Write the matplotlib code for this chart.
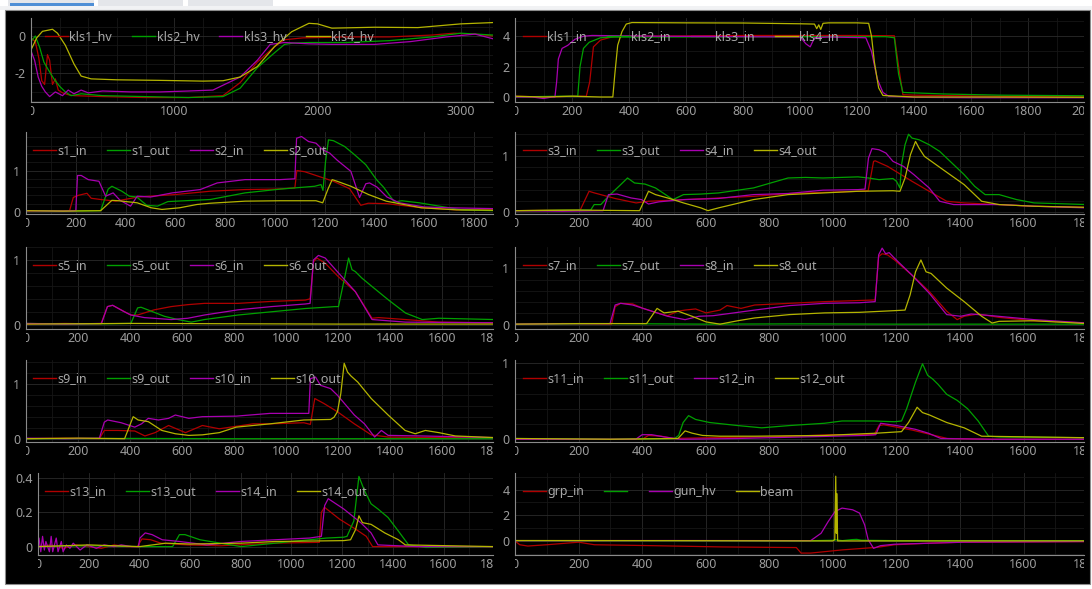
import matplotlib
matplotlib.use('Agg')
import matplotlib.pyplot as plt
from matplotlib.lines import Line2D
from matplotlib.patches import Rectangle
from matplotlib.transforms import Bbox, TransformedBbox, blended_transform_factory, offset_copy
from matplotlib.ticker import FixedLocator, MultipleLocator

plt.rcParams['font.family'] = ['Noto Sans', 'DejaVu Sans']

# klystron HV (long window)
kls1_hv = [(0, -0.1), (30, -0.3), (55, -1.2), (75, -2.4), (95, -2.6), (115, -1.0), (130, -1.3), (150, -2.6),
           (170, -2.3), (190, -2.9), (220, -3.05), (260, -3.15), (300, -3.2), (500, -3.25), (800, -3.3),
           (1100, -3.3), (1340, -3.2), (1460, -2.5), (1580, -1.4), (1700, -0.57), (1770, -0.2), (1900, -0.1),
           (2200, -0.05), (2500, -0.05), (2800, 0.05), (2950, 0.15), (3100, 0.1), (3225, 0.0)]
kls2_hv = [(0, -0.3), (30, 0.0), (60, -0.6), (90, -1.4), (120, -1.8), (160, -2.3), (200, -2.7), (240, -3.0),
           (280, -3.2), (350, -3.1), (500, -3.2), (800, -3.25), (1100, -3.3), (1340, -3.25), (1460, -2.8),
           (1580, -1.7), (1700, -0.9), (1770, -0.45), (1830, -0.38), (1940, -0.35), (2200, -0.35),
           (2500, -0.25), (2800, -0.05), (3000, 0.15), (3225, 0.05)]
kls3_hv = [(0, -0.8), (25, -1.3), (50, -2.2), (75, -2.7), (100, -3.0), (130, -3.25), (170, -3.0), (220, -3.2),
           (260, -2.9), (300, -3.1), (350, -2.9), (400, -3.05), (500, -2.95), (700, -3.0), (900, -3.0),
           (1100, -2.95), (1270, -2.9), (1460, -2.2), (1580, -1.3), (1670, -0.45), (1770, -0.35), (1940, -0.42),
           (2100, -0.45), (2400, -0.45), (2650, -0.3), (2900, -0.05), (3100, 0.1), (3225, -0.15)]
kls4_hv = [(0, -0.75), (40, -0.1), (80, 0.25), (150, 0.36), (185, 0.15), (240, -0.5), (300, -1.5), (350, -2.15),
           (420, -2.3), (600, -2.35), (900, -2.38), (1200, -2.42), (1340, -2.4), (1460, -2.2), (1580, -1.64),
           (1700, -0.57), (1820, 0.23), (1940, 0.68), (2000, 0.65), (2100, 0.42), (2400, 0.47), (2700, 0.45),
           (3000, 0.65), (3225, 0.72)]

# klystron drive
kls1_in = [(0, 0.05), (100, 0.0), (200, 0.05), (250, 0.05), (262, 1.0), (275, 3.3), (300, 3.75), (340, 3.95),
           (400, 4.0), (600, 4.02), (800, 4.05), (1000, 4.05), (1200, 4.05), (1330, 4.03), (1345, 2.0),
           (1360, 0.15), (1400, 0.12), (1600, 0.07), (1800, 0.02), (2000, 0.0)]
kls2_in = [(0, 0.0), (150, 0.05), (220, 0.05), (228, 2.0), (240, 3.2), (260, 3.6), (300, 3.9), (350, 3.95),
           (600, 3.95), (1000, 3.97), (1300, 3.97), (1330, 3.9), (1345, 1.5), (1360, 0.3), (1500, 0.2),
           (1700, 0.12), (2000, 0.08)]
kls3_in = [(0, 0.0), (60, 0.0), (100, -0.1), (130, 0.0), (140, 0.0), (146, 1.0), (152, 2.5), (165, 3.2),
           (185, 3.4), (210, 3.8), (240, 4.0), (270, 4.05), (500, 4.0), (800, 3.97), (1000, 3.95), (1020, 3.5),
           (1035, 3.3), (1050, 3.9), (1100, 3.95), (1230, 3.9), (1250, 3.0), (1270, 1.2), (1290, 0.3),
           (1310, 0.05), (1400, -0.02), (1600, -0.05), (2000, -0.05)]
kls4_in = [(0, 0.05), (100, 0.0), (200, 0.05), (300, 0.0), (343, 0.0), (350, 1.5), (360, 3.4), (375, 4.3),
           (390, 4.8), (410, 4.9), (600, 4.88), (800, 4.87), (1000, 4.82), (1050, 4.8), (1058, 4.5),
           (1065, 4.75), (1072, 4.45), (1080, 4.85), (1100, 4.88), (1200, 4.88), (1240, 4.85), (1250, 4.0),
           (1260, 2.3), (1275, 0.6), (1290, 0.1), (1400, 0.0), (1600, 0.0), (2000, -0.02)]

# sections 1-4
s1_in = [(0, 0.02), (100, 0.03), (175, 0.03), (190, 0.35), (210, 0.4), (245, 0.45), (262, 0.33), (300, 0.3),
         (360, 0.26), (450, 0.36), (600, 0.42), (740, 0.5), (880, 0.54), (1000, 0.55), (1080, 0.58),
         (1088, 1.0), (1120, 0.97), (1165, 0.88), (1235, 0.74), (1300, 0.56), (1345, 0.16), (1375, 0.21),
         (1450, 0.2), (1590, 0.1), (1730, 0.05), (1880, 0.05)]
s1_out = [(0, 0.03), (150, 0.02), (300, 0.03), (330, 0.55), (345, 0.62), (385, 0.5), (415, 0.38), (445, 0.36),
          (485, 0.16), (528, 0.14), (570, 0.25), (740, 0.3), (880, 0.46), (1020, 0.55), (1160, 0.62),
          (1185, 0.66), (1193, 0.52), (1203, 1.2), (1215, 1.74), (1235, 1.72), (1280, 1.58), (1320, 1.38),
          (1365, 1.14), (1408, 0.78), (1436, 0.6), (1480, 0.24), (1510, 0.27), (1580, 0.22), (1680, 0.12),
          (1750, 0.05), (1880, 0.03)]
s2_in = [(0, 0.03), (150, 0.02), (200, 0.03), (207, 0.88), (222, 0.88), (250, 0.78), (293, 0.74), (320, 0.38),
         (350, 0.46), (378, 0.28), (420, 0.14), (447, 0.38), (500, 0.36), (588, 0.46), (700, 0.54), (768, 0.7),
         (880, 0.78), (1020, 0.78), (1080, 0.8), (1087, 1.78), (1107, 1.82), (1135, 1.7), (1165, 1.66),
         (1192, 1.5), (1220, 1.42), (1250, 1.25), (1305, 0.98), (1340, 0.35), (1365, 0.68), (1380, 0.7),
         (1410, 0.6), (1450, 0.36), (1500, 0.22), (1600, 0.12), (1700, 0.1), (1880, 0.08)]
s2_out = [(0, 0.03), (150, 0.02), (300, 0.03), (345, 0.28), (372, 0.27), (447, 0.22), (503, 0.1), (546, 0.06),
          (617, 0.1), (687, 0.18), (740, 0.21), (880, 0.26), (1020, 0.27), (1165, 0.27), (1192, 0.22),
          (1213, 0.55), (1230, 0.78), (1250, 0.74), (1305, 0.62), (1376, 0.42), (1447, 0.26), (1517, 0.18),
          (1588, 0.1), (1730, 0.05), (1880, 0.04)]
s3_in = [(0, 0.02), (100, 0.03), (205, 0.03), (233, 0.37), (250, 0.34), (315, 0.24), (381, 0.16), (420, 0.19),
         (535, 0.22), (645, 0.25), (754, 0.28), (864, 0.33), (974, 0.35), (1084, 0.37), (1111, 0.38),
         (1128, 0.91), (1133, 0.92), (1172, 0.82), (1249, 0.55), (1303, 0.37), (1358, 0.19), (1413, 0.16),
         (1523, 0.13), (1633, 0.1), (1800, 0.08)]
s3_out = [(0, 0.02), (150, 0.03), (238, 0.03), (249, 0.13), (270, 0.13), (294, 0.28), (327, 0.46), (354, 0.61),
          (376, 0.52), (409, 0.5), (442, 0.43), (497, 0.22), (530, 0.31), (585, 0.32), (640, 0.34), (750, 0.43),
          (859, 0.61), (914, 0.62), (969, 0.61), (1079, 0.63), (1112, 0.61), (1145, 0.58), (1189, 0.6),
          (1200, 0.55), (1211, 0.43), (1216, 0.85), (1227, 1.21), (1238, 1.4), (1249, 1.33), (1271, 1.3),
          (1303, 1.21), (1336, 1.09), (1369, 0.91), (1413, 0.67), (1446, 0.46), (1479, 0.31), (1523, 0.31),
          (1578, 0.22), (1633, 0.16), (1800, 0.13)]
s4_in = [(0, 0.02), (150, 0.01), (277, 0.02), (294, 0.31), (321, 0.32), (365, 0.25), (398, 0.22), (420, 0.14),
         (453, 0.18), (530, 0.22), (640, 0.24), (750, 0.31), (859, 0.33), (969, 0.39), (1079, 0.4), (1101, 0.41),
         (1112, 0.97), (1123, 1.14), (1145, 1.12), (1167, 1.06), (1189, 0.91), (1222, 0.82), (1255, 0.67),
         (1303, 0.43), (1336, 0.19), (1380, 0.13), (1523, 0.13), (1633, 0.1), (1800, 0.07)]
s4_out = [(0, 0.02), (200, 0.03), (392, 0.02), (420, 0.37), (442, 0.31), (486, 0.24), (530, 0.16), (585, 0.07),
          (607, 0.02), (640, 0.07), (750, 0.22), (859, 0.31), (969, 0.34), (1079, 0.37), (1189, 0.38),
          (1211, 0.37), (1227, 0.61), (1244, 1.03), (1260, 1.27), (1271, 1.15), (1288, 1.0), (1310, 0.91),
          (1354, 0.73), (1413, 0.49), (1468, 0.19), (1523, 0.13), (1633, 0.1), (1800, 0.08)]

# sections 5-8
s5_in = [(0, 0.01), (150, 0.02), (288, 0.01), (313, 0.28), (333, 0.3), (365, 0.23), (403, 0.15), (429, 0.15),
         (493, 0.23), (558, 0.28), (622, 0.31), (686, 0.33), (815, 0.33), (944, 0.36), (1073, 0.38),
         (1092, 0.4), (1105, 0.97), (1118, 1.03), (1150, 0.95), (1201, 0.74), (1266, 0.51), (1330, 0.1),
         (1356, 0.11), (1459, 0.08), (1587, 0.04), (1800, 0.03)]
s5_out = [(0, 0.02), (200, 0.01), (403, 0.02), (429, 0.26), (442, 0.27), (481, 0.21), (532, 0.13), (584, 0.08),
          (635, 0.04), (686, 0.08), (815, 0.15), (944, 0.2), (1073, 0.25), (1188, 0.28), (1201, 0.28),
          (1227, 0.77), (1240, 1.03), (1253, 0.85), (1266, 0.82), (1291, 0.72), (1330, 0.59), (1394, 0.38),
          (1459, 0.18), (1523, 0.08), (1587, 0.1), (1800, 0.08)]
s6_in = [(0, 0.02), (150, 0.01), (290, 0.02), (313, 0.28), (333, 0.3), (378, 0.2), (403, 0.15), (455, 0.11),
         (558, 0.08), (622, 0.1), (686, 0.15), (815, 0.23), (944, 0.28), (1073, 0.32), (1092, 0.33),
         (1105, 1.0), (1124, 1.07), (1150, 1.03), (1201, 0.8), (1266, 0.51), (1330, 0.08), (1459, 0.04),
         (1800, 0.03)]
s6_out = [(0, 0.01), (400, 0.02), (800, 0.015), (1200, 0.01), (1800, 0.01)]
s7_in = [(0, 0.01), (150, 0.02), (304, 0.01), (315, 0.32), (332, 0.38), (370, 0.37), (403, 0.29), (447, 0.21),
         (480, 0.16), (513, 0.24), (535, 0.26), (568, 0.28), (601, 0.21), (645, 0.26), (667, 0.34), (711, 0.29),
         (754, 0.35), (864, 0.38), (974, 0.41), (1084, 0.43), (1133, 0.44), (1144, 1.21), (1155, 1.26),
         (1172, 1.24), (1194, 1.15), (1249, 0.88), (1303, 0.59), (1358, 0.24), (1391, 0.09), (1413, 0.15),
         (1457, 0.19), (1523, 0.13), (1633, 0.07), (1800, 0.03)]
s7_out = [(0, 0.01), (300, 0.02), (600, 0.01), (900, 0.015), (1200, 0.01), (1500, 0.01), (1800, 0.01)]
s8_in = [(0, 0.01), (150, 0.02), (299, 0.02), (315, 0.35), (332, 0.38), (370, 0.35), (425, 0.25), (480, 0.15),
         (535, 0.09), (579, 0.15), (623, 0.16), (754, 0.26), (864, 0.34), (974, 0.38), (1084, 0.39),
         (1133, 0.41), (1144, 1.24), (1155, 1.36), (1166, 1.26), (1177, 1.28), (1194, 1.18), (1249, 0.88),
         (1303, 0.56), (1358, 0.18), (1402, 0.15), (1435, 0.19), (1501, 0.16), (1633, 0.09), (1800, 0.03)]
s8_out = [(0, 0.01), (200, 0.02), (414, 0.02), (447, 0.29), (469, 0.21), (513, 0.24), (557, 0.15), (601, 0.05),
          (645, 0.01), (700, 0.07), (754, 0.12), (864, 0.18), (974, 0.21), (1084, 0.22), (1194, 0.25),
          (1227, 0.26), (1243, 0.53), (1260, 0.94), (1277, 1.15), (1293, 0.94), (1309, 0.91), (1358, 0.65),
          (1413, 0.41), (1468, 0.15), (1501, 0.03), (1523, 0.06), (1633, 0.07), (1800, 0.02)]

# sections 9-12
s9_in = [(0, 0.01), (150, 0.02), (282, 0.01), (301, 0.16), (353, 0.16), (418, 0.15), (457, 0.06), (496, 0.12),
         (548, 0.25), (613, 0.12), (678, 0.25), (743, 0.19), (873, 0.28), (938, 0.28), (1068, 0.3), (1093, 0.27),
         (1110, 0.74), (1145, 0.65), (1197, 0.5), (1262, 0.28), (1327, 0.08), (1392, 0.04), (1800, 0.02)]
s9_out = [(0, 0.01), (400, 0.015), (800, 0.01), (1200, 0.01), (1800, 0.01)]
s10_in = [(0, 0.02), (150, 0.01), (282, 0.02), (301, 0.31), (314, 0.35), (366, 0.3), (418, 0.22), (444, 0.28),
          (470, 0.38), (509, 0.35), (548, 0.38), (574, 0.44), (626, 0.38), (678, 0.41), (808, 0.42), (938, 0.47),
          (1068, 0.47), (1087, 0.47), (1093, 1.1), (1113, 1.13), (1132, 0.98), (1171, 0.92), (1197, 0.8),
          (1262, 0.44), (1301, 0.28), (1340, 0.04), (1366, 0.16), (1392, 0.07), (1522, 0.06), (1800, 0.03)]
s10_out = [(0, 0.01), (200, 0.02), (379, 0.01), (412, 0.41), (431, 0.35), (470, 0.32), (522, 0.16), (574, 0.1),
           (626, 0.07), (678, 0.08), (743, 0.12), (808, 0.22), (873, 0.25), (938, 0.28), (1068, 0.35),
           (1171, 0.36), (1184, 0.4), (1197, 0.5), (1210, 0.83), (1223, 1.38), (1236, 1.22), (1249, 1.15),
           (1275, 1.04), (1327, 0.74), (1392, 0.44), (1457, 0.16), (1496, 0.1), (1535, 0.16), (1587, 0.12),
           (1650, 0.06), (1800, 0.03)]
s11_in = [(0, 0.0), (400, 0.0), (420, 0.05), (460, 0.04), (500, 0.01), (600, 0.02), (800, 0.03), (1000, 0.06),
          (1130, 0.06), (1145, 0.18), (1160, 0.19), (1250, 0.12), (1320, 0.05), (1360, 0.01), (1500, 0.0),
          (1800, 0.0)]
s11_out = [(0, 0.01), (300, 0.0), (502, 0.01), (515, 0.05), (529, 0.22), (546, 0.31), (568, 0.26), (612, 0.22),
           (700, 0.18), (776, 0.15), (864, 0.18), (974, 0.21), (1029, 0.24), (1128, 0.24), (1194, 0.23),
           (1216, 0.24), (1232, 0.4), (1260, 0.75), (1282, 0.99), (1298, 0.84), (1314, 0.79), (1331, 0.72),
           (1358, 0.59), (1391, 0.51), (1424, 0.4), (1457, 0.24), (1490, 0.04), (1523, 0.03), (1800, 0.02)]
s12_in = [(0, 0.0), (380, 0.0), (400, 0.06), (430, 0.06), (470, 0.03), (520, 0.0), (700, 0.01), (900, 0.03),
          (1100, 0.05), (1135, 0.06), (1150, 0.21), (1200, 0.18), (1260, 0.13), (1300, 0.08), (1340, 0.01),
          (1500, 0.0), (1800, 0.0)]
s12_out = [(0, 0.01), (300, 0.0), (513, 0.01), (535, 0.11), (557, 0.08), (590, 0.05), (645, 0.04), (754, 0.04),
           (974, 0.05), (1139, 0.08), (1216, 0.1), (1238, 0.22), (1265, 0.42), (1282, 0.35), (1303, 0.32),
           (1358, 0.22), (1413, 0.15), (1468, 0.04), (1800, 0.02)]

# sections 13-14
s13_in = [(0, 0.0), (50, 0.01), (100, -0.01), (150, 0.01), (200, 0.0), (250, -0.01), (300, 0.01), (350, 0.0),
          (392, 0.0), (410, 0.045), (445, 0.04), (485, 0.02), (590, 0.01), (720, 0.005), (920, 0.02),
          (1110, 0.025), (1118, 0.2), (1130, 0.23), (1190, 0.16), (1255, 0.1), (1295, 0.06), (1320, 0.0),
          (1500, 0.0), (1800, 0.0)]
s13_out = [(0, 0.0), (200, 0.005), (400, 0.0), (531, 0.0), (558, 0.07), (580, 0.07), (639, 0.04), (720, 0.02),
           (801, 0.0), (868, 0.01), (1003, 0.03), (1138, 0.05), (1206, 0.055), (1219, 0.06), (1246, 0.15),
           (1266, 0.41), (1287, 0.33), (1314, 0.25), (1341, 0.22), (1381, 0.17), (1422, 0.09), (1462, 0.01),
           (1530, -0.005), (1800, 0.0)]
s14_in = [(0, 0.03), (4, 0.05), (11, -0.03), (18, 0.06), (25, -0.02), (31, 0.03), (45, -0.03), (52, 0.06),
          (58, -0.03), (72, 0.05), (79, -0.03), (92, 0.03), (99, -0.03), (112, 0.01), (126, -0.01), (139, 0.02),
          (166, -0.02), (193, 0.01), (230, -0.01), (261, 0.01), (300, 0.0), (328, 0.01), (370, 0.0), (396, 0.0),
          (402, 0.05), (423, 0.08), (450, 0.07), (490, 0.04), (558, 0.03), (666, 0.01), (800, 0.03), (936, 0.04),
          (1071, 0.05), (1118, 0.06), (1131, 0.24), (1145, 0.28), (1206, 0.22), (1273, 0.14), (1314, 0.08),
          (1341, 0.01), (1500, 0.0), (1800, 0.0)]
s14_out = [(0, 0.0), (200, 0.01), (400, 0.0), (504, 0.02), (600, 0.015), (800, 0.02), (936, 0.03), (1206, 0.035),
           (1233, 0.04), (1253, 0.1), (1266, 0.18), (1280, 0.14), (1314, 0.13), (1368, 0.08), (1422, 0.04),
           (1449, 0.01), (1800, 0.0)]

# gun / beam
grp_in = [(0, 0.0), (15, -0.3), (40, -0.4), (100, -0.3), (200, -0.1), (250, -0.3), (430, -0.37), (650, -0.47),
          (885, -0.52), (900, -0.95), (930, -0.95), (1030, -0.7), (1140, -0.5), (1195, -0.3), (1300, -0.18),
          (1410, -0.1), (1800, -0.05)]
unnamed = [(0, 0.02), (500, 0.02), (900, 0.0), (1000, 0.05), (1010, 0.08), (1030, 0.02), (1060, 0.1),
           (1075, 0.12), (1090, 0.05), (1200, 0.02), (1800, 0.02)]
gun_hv = [(0, 0.02), (500, 0.03), (930, 0.02), (963, 0.6), (985, 1.5), (1007, 2.3), (1029, 2.56), (1062, 2.43),
          (1084, 2.17), (1100, 1.25), (1111, 0.1), (1128, -0.58), (1150, -0.37), (1194, -0.26), (1303, -0.18),
          (1413, -0.1), (1800, -0.05)]
beam = [(0, 0.03), (500, 0.02), (1000, 0.0), (1006, 0.1), (1009, 5.05), (1011, 0.6), (1012, 3.7), (1015, 0.0),
        (1500, 0.0), (1800, 0.0)]

COLORS = ['#b00000', '#00a000', '#a800b0', '#b4b400']
TXT = '#a8a8a8'
STEP200 = list(range(0, 1801, 200))

# (pixel box, xlim, ylim, x ticks, y ticks, x minor, y minor, legend names, traces, legend x offset)
panels = [
    ((31, 18, 493, 102), (0, 3225), (-3.54, 0.965), [0, 1000, 2000, 3000], [-2, 0], 200, 0.5,
     ['kls1_hv', 'kls2_hv', 'kls3_hv', 'kls4_hv'], [kls1_hv, kls2_hv, kls3_hv, kls4_hv], 14),
    ((515, 18, 1084, 102), (0, 1995), (-0.33, 5.2), list(range(0, 2001, 200)), [0, 2, 4], 100, 1,
     ['kls1_in', 'kls2_in', 'kls3_in', 'kls4_in'], [kls1_in, kls2_in, kls3_in, kls4_in], 8),
    ((26, 132, 493, 214), (0, 1876), (-0.05, 1.93), STEP200, [0, 1], 100, 0.2,
     ['s1_in', 's1_out', 's2_in', 's2_out'], [s1_in, s1_out, s2_in, s2_out], 7),
    ((515, 132, 1084, 214), (0, 1790), (-0.04, 1.44), STEP200, [0, 1], 100, 0.2,
     ['s3_in', 's3_out', 's4_in', 's4_out'], [s3_in, s3_out, s4_in, s4_out], 8),
    ((26, 247, 493, 329), (0, 1795), (-0.066, 1.2), STEP200, [0, 1], 100, 0.2,
     ['s5_in', 's5_out', 's6_in', 's6_out'], [s5_in, s5_out, s6_in, s6_out], 7),
    ((515, 247, 1084, 329), (0, 1790), (-0.076, 1.38), STEP200, [0, 1], 100, 0.2,
     ['s7_in', 's7_out', 's8_in', 's8_out'], [s7_in, s7_out, s8_in, s8_out], 8),
    ((26, 360, 493, 442), (0, 1795), (-0.05, 1.44), STEP200, [0, 1], 100, 0.2,
     ['s9_in', 's9_out', 's10_in', 's10_out'], [s9_in, s9_out, s10_in, s10_out], 7),
    ((515, 360, 1084, 442), (0, 1790), (-0.036, 1.04), STEP200, [0, 1], 100, 0.2,
     ['s11_in', 's11_out', 's12_in', 's12_out'], [s11_in, s11_out, s12_in, s12_out], 8),
    ((38, 473, 493, 555), (0, 1795), (-0.049, 0.43), STEP200, [0, 0.2, 0.4], 100, 0.1,
     ['s13_in', 's13_out', 's14_in', 's14_out'], [s13_in, s13_out, s14_in, s14_out], 7),
    ((515, 473, 1084, 555), (0, 1790), (-1.1, 5.3), STEP200, [0, 2, 4], 100, 1,
     ['grp_in', '', 'gun_hv', 'beam'], [grp_in, unnamed, gun_hv, beam], 8),
]

W, H = 1092, 589
fig = plt.figure(figsize=(W / 100, H / 100), dpi=100, facecolor='white')


def frect(x0, y0, x1, y1, **kw):
    fig.patches.append(Rectangle((x0 / W, 1 - y1 / H), (x1 - x0) / W, (y1 - y0) / H,
                                 transform=fig.transFigure, zorder=-1, **kw))


# dock area with tab strip above it
frect(0, 6, W, 10, facecolor='#f1f2f4', edgecolor='none')
for x0, x1 in [(8, 94), (98, 183), (188, 273)]:
    frect(x0, 0, x1, 6, facecolor='#e4e6ea', edgecolor='none')
frect(10, 3, 94, 5.5, facecolor='#4f8fd6', edgecolor='none')
frect(5, 10, 1090, 584, facecolor='black', edgecolor='#8c8c8c', lw=0.8)

for box, xlim, ylim, xt, yt, xmin, ymin, names, traces, loff in panels:
    x0, y0, x1, y1 = box
    ax = fig.add_axes([x0 / W, 1 - y1 / H, (x1 - x0) / W, (y1 - y0) / H])
    ax.set_facecolor('black')
    for pts, c in zip(traces, COLORS):
        t, v = zip(*pts)
        ax.plot(t, v, color=c, lw=0.9)

    ax.xaxis.set_major_locator(FixedLocator(xt))
    ax.xaxis.set_minor_locator(MultipleLocator(xmin))
    ax.yaxis.set_major_locator(FixedLocator(yt))
    ax.yaxis.set_minor_locator(MultipleLocator(ymin))
    ax.set_yticklabels([f'{v:g}' for v in yt])
    ax.set_xlim(*xlim)
    ax.set_ylim(*ylim)
    ax.grid(True, which='major', color='#2a2a2a', lw=0.6)
    ax.grid(True, which='minor', color='#161616', lw=0.6)
    ax.set_axisbelow(True)
    ax.tick_params(which='both', length=0)
    ax.tick_params(axis='x', labelbottom=False)
    ax.tick_params(axis='y', pad=4, labelsize=9, labelcolor='#9c9c9c')
    for side in ('top', 'right'):
        ax.spines[side].set_visible(False)
    for side in ('left', 'bottom'):
        ax.spines[side].set_color('#8a8a8a')
        ax.spines[side].set_linewidth(0.8)

    # bottom labels are cut at the plot edges
    tr = offset_copy(blended_transform_factory(ax.transData, ax.transAxes), fig=fig, x=0, y=-3, units='dots')
    clip = TransformedBbox(Bbox([[0, -1], [1, 0]]), ax.transAxes)
    for v in xt:
        lab = fig.text(v, 0, str(v), transform=tr, ha='center', va='top', fontsize=9, color='#9c9c9c')
        lab.set_clip_box(clip)
        lab.set_clip_on(True)

    handles = [Line2D([], [], color=c, lw=1.0) for c in COLORS]
    ax.legend(handles, names, loc='center left', ncol=4, frameon=False, fontsize=9, labelcolor=TXT,
              bbox_to_anchor=(loff / (x1 - x0), 1 - 19 / (y1 - y0)), borderpad=0, borderaxespad=0,
              handlelength=1.85, handletextpad=0.1, columnspacing=1.6)

fig.savefig('out.png', dpi=100, facecolor='white')
